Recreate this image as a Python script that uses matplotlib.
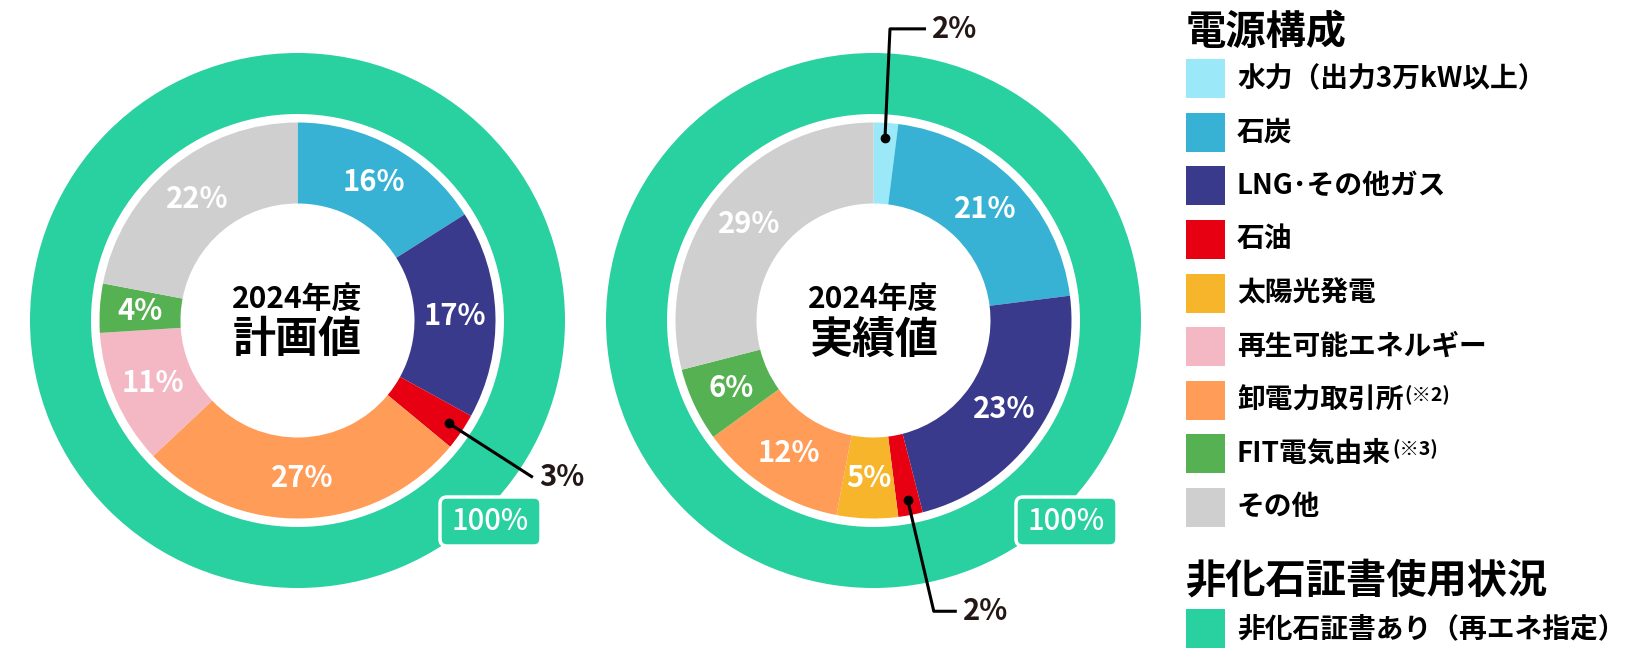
import matplotlib
matplotlib.use("Agg")
import matplotlib.pyplot as plt
from matplotlib.patches import Rectangle, FancyBboxPatch
import numpy as np

plt.rcParams['font.family'] = ['Noto Sans CJK JP', 'DejaVu Sans']

W, H = 1640, 660  # figure size in pixels (dpi 100)

## Data
legend_items = ["水力（出力3万kW以上）", "石炭", "LNG･その他ガス", "石油", "太陽光発電",
                "再生可能エネルギー", "卸電力取引所", "FIT電気由来", "その他"]
legend_notes = ["", "", "", "", "", "", "(※2)", "(※3)", ""]
item_colors = ["#9BE8F8", "#38B2D4", "#3A3A8C", "#E60012", "#F7B52C",
               "#F4B8C4", "#FF9C57", "#56B152", "#CFCFCF"]

plan_cats = ["石炭", "LNG･その他ガス", "石油", "卸電力取引所", "再生可能エネルギー", "FIT電気由来", "その他"]
plan_vals = [16, 17, 3, 27, 11, 4, 22]

actual_cats = ["水力（出力3万kW以上）", "石炭", "LNG･その他ガス", "石油", "太陽光発電", "卸電力取引所", "FIT電気由来", "その他"]
actual_vals = [2, 21, 23, 2, 5, 12, 6, 29]

cert_label = "非化石証書あり（再エネ指定）"
cert_share = [100, 100]
cert_color = "#29D0A0"

titles = ["計画値", "実績値"]
year = "2024年度"

color_of = dict(zip(legend_items, item_colors))
TXT = "#231815"

fig = plt.figure(figsize=(W / 100, H / 100), dpi=100)
ax = fig.add_axes([0, 0, 1, 1])

def donut(cx_px, cy_px, cats, vals, share, title, callouts):
    cx, cy = cx_px, H - cy_px
    # outer ring: non-fossil certificate
    ax.pie([share], colors=[cert_color], radius=267.5, center=(cx, cy), startangle=90,
           counterclock=False, wedgeprops=dict(width=61, linewidth=0))
    # inner ring: power source mix
    ax.pie(vals, colors=[color_of[c] for c in cats], radius=198, center=(cx, cy), startangle=90,
           counterclock=False, wedgeprops=dict(width=81, linewidth=0))
    total = float(sum(vals))
    cum = 0.0
    for c, v in zip(cats, vals):
        mid = np.deg2rad(90 - 360 * (cum + v / 2) / total)
        cum += v
        if c in callouts:
            dx, dy = 183 * np.cos(mid), 183 * np.sin(mid)
            pts = [(cx + dx, cy + dy)] + [(cx + dx + ox, cy + dy + oy) for ox, oy in callouts[c]]
            xs, ys = zip(*pts)
            ax.plot(xs, ys, color="black", lw=2.2, solid_capstyle="butt", zorder=5)
            ax.plot(xs[0], ys[0], "o", color="black", ms=6, zorder=6)
            ax.text(xs[-1] + 6, ys[-1], f"{v}%", fontsize=21, fontweight="bold",
                    color=TXT, ha="left", va="center", zorder=6)
        else:
            ax.text(cx + 157.5 * np.cos(mid), cy + 157.5 * np.sin(mid), f"{v}%",
                    fontsize=21, fontweight="bold", color="white", ha="center", va="center")
    # centre text
    ax.text(cx, cy + 22, year, fontsize=21.5, fontweight="bold", color="black", ha="center", va="center")
    ax.text(cx, cy - 19, title, fontsize=31, fontweight="bold", color="black", ha="center", va="center")
    # 100% badge
    box = FancyBboxPatch((cx + 142.5, cy - 225.5), 101, 49, boxstyle="round,pad=0,rounding_size=7",
                         fc=cert_color, ec="white", lw=2.5, zorder=4)
    ax.add_patch(box)
    ax.text(cx + 193, cy - 201, f"{share}%", fontsize=21, fontweight="medium", color="white",
            ha="center", va="center", zorder=5)

donut(297.5, 320.5, plan_cats, plan_vals, cert_share[0], titles[0],
      {"石油": [(84, -54)]})
donut(873.5, 320.5, actual_cats, actual_vals, cert_share[1], titles[1],
      {"水力（出力3万kW以上）": [(5, 109), (41, 109)],
       "石油": [(26, -111), (49, -111)]})

# pixel coordinates everywhere (pie() resets the limits)
ax.set_xlim(0, W)
ax.set_ylim(0, H)
ax.axis("off")

## Legend
lx, sq = 1186, 39
ax.text(lx, H - 32, "電源構成", fontsize=29, fontweight="bold", color="black", ha="left", va="center")
renderer = fig.canvas.get_renderer()
for i, (name, note, col) in enumerate(zip(legend_items, legend_notes, item_colors)):
    yc = H - (78.8 + i * 53.56)
    ax.add_patch(Rectangle((lx, yc - sq / 2), sq, sq, fc=col, ec="none"))
    t = ax.text(lx + 51, yc, name, fontsize=20, fontweight="bold", color="black", ha="left", va="center")
    if note:
        bb = t.get_window_extent(renderer)
        ax.text(bb.x1 + 1, yc + 5, note, fontsize=14, fontweight="bold", color="black",
                ha="left", va="center")

ax.text(lx, H - 581, "非化石証書使用状況", fontsize=29, fontweight="bold", color="black", ha="left", va="center")
ax.add_patch(Rectangle((lx, H - 628.8 - sq / 2), sq, sq, fc=cert_color, ec="none"))
ax.text(lx + 51, H - 628.8, cert_label, fontsize=20, fontweight="bold", color="black", ha="left", va="center")

fig.savefig("out.png", dpi=100, facecolor="white")
plt.close("all")
